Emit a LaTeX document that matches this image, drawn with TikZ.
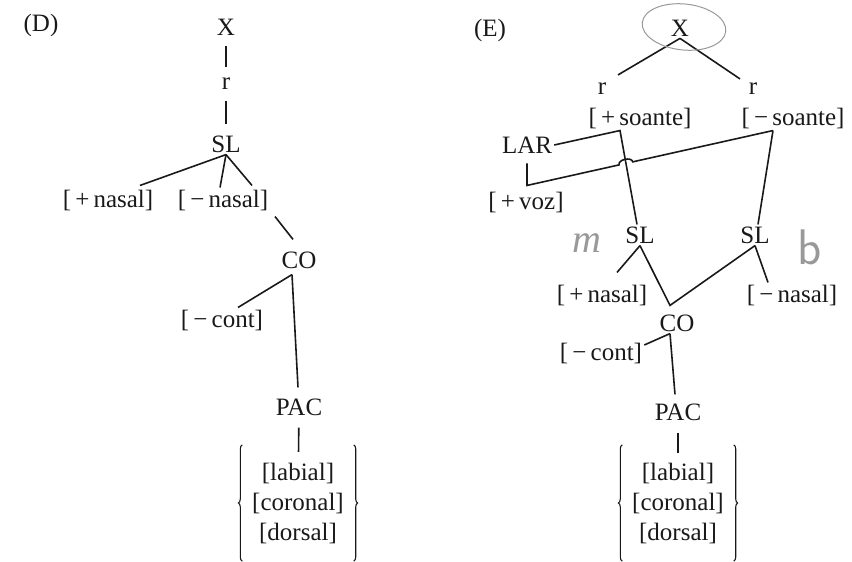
\documentclass[tikz,border=0pt]{standalone}
\usepackage{fontspec}
\setmainfont{Liberation Serif}
\usetikzlibrary{positioning, calc, decorations.pathreplacing}

\begin{document}
\begin{tikzpicture}[
        x=1pt, y=1pt,
        every node/.style={font=\fontsize{25}{30}\selectfont, text=black!90, inner sep=2pt},
        feats/.style={align=center, minimum width=111pt, minimum height=116pt},
        tie/.style={line width=1.6pt, draw=black!90},
        stem/.style={tie, shorten <=9pt, shorten >=9pt},
        brc/.style={tie, line width=1.1pt, decorate, decoration={brace, amplitude=4pt}},
        pencil/.style={draw=black!40, line width=1pt},
        scrawl/.style={text=black!40, font=\fontsize{40}{40}\selectfont\itshape}
    ]
        \useasboundingbox (0,0) rectangle (852,-562);

        % (D)
        \node (labd) at (41,-25) {(D)};
        \node (xd) at (226,-27) {X};
        \node (rd) at (226,-84) {r};
        \node (sld) at (226,-144) {SL};
        \node (pnasd) at (108,-200) {[\,+\,nasal]};
        \node (mnasd) at (223,-200) {[\,−\,nasal]};
        \node (cod) at (299,-260) {CO};
        \node (mcontd) at (222,-320) {[\,−\,cont]};
        \node (pacd) at (299,-407) {PAC};
        \node[feats] (featd) at (298,-503) {[labial]\\{}[coronal]\\{}[dorsal]};

        \draw[stem] (xd) -- (rd);
        \draw[stem] (rd) -- (sld);
        \draw[tie] (sld.south) -- ([shift={(32pt,2pt)}]pnasd.north);
        \draw[tie] (sld.south) -- ([xshift=-3pt]mnasd.north);
        \draw[tie] (sld.south) -- ([shift={(29pt,2pt)}]mnasd.north);
        \draw[tie] ([shift={(52pt,-4pt)}]mnasd.south) -- ([shift={(-6pt,10pt)}]cod.north);
        \draw[tie] ([shift={(-7pt,-4pt)}]cod.south) -- ([xshift=16pt]mcontd.north);
        \draw[tie] ([shift={(-7pt,-4pt)}]cod.south) -- ([shift={(-1pt,9pt)}]pacd.north);
        \draw[tie, shorten <=10pt, shorten >=-7pt] (pacd) -- (featd);
        \draw[brc] (featd.south west) -- (featd.north west);
        \draw[brc] (featd.north east) -- (featd.south east);

        % (E)
        \node (labe) at (490,-30) {(E)};
        \node (xe) at (680,-28) {X};
        \node (rle) at (602,-89) {r};
        \node (rre) at (753,-89) {r};
        \node (psone) at (640,-118) {[\,+\,soante]};
        \node (msone) at (793,-118) {[\,−\,soante]};
        \node (lare) at (527,-145) {LAR};
        \node (pvoze) at (526,-202) {[\,+\,voz]};
        \node (slae) at (640,-235) {SL};
        \node (slbe) at (755,-235) {SL};
        \node (pnase) at (602,-295) {[\,+\,nasal]};
        \node (mnase) at (792,-295) {[\,−\,nasal]};
        \node (coe) at (677,-323) {CO};
        \node (mconte) at (601,-353) {[\,−\,cont]};
        \node (pace) at (678,-412) {PAC};
        \node[feats] (feate) at (678,-503) {[labial]\\{}[coronal]\\{}[dorsal]};

        \coordinate (psonpt) at ([xshift=-20pt]psone.south);
        \coordinate (msonpt) at ([xshift=-20pt]msone.south);
        \coordinate (vozc) at ([yshift=-30pt]lare.south);

        \draw[tie] (xe.south) -- ([shift={(16pt,6pt)}]rle.north);
        \draw[tie] (xe.south) -- ([shift={(-13pt,2pt)}]rre.north);
        \draw[tie] (lare.east) -- (psonpt) -- ([xshift=-3pt]slae.north);
        \draw[tie] (msonpt) -- ([xshift=3pt]slbe.north);
        \draw[tie, shorten <=8pt] (lare.south) -- (vozc) -- ($(vozc)!0.374!(msonpt)$)
            to[bend left=90] ($(vozc)!0.430!(msonpt)$) -- (msonpt);
        \draw[tie] (slae.south) -- ([shift={(15pt,10pt)}]pnase.north);
        \draw[tie] (slae.south) -- ([shift={(-7pt,7pt)}]coe.north) -- (slbe.south);
        \draw[tie] (slbe.south) -- ([xshift=-24pt]mnase.north);
        \draw[tie] ([xshift=-7pt]coe.south) -- ([yshift=8pt]mconte.east);
        \draw[tie] ([xshift=-7pt]coe.south) -- ([shift={(-3pt,7pt)}]pace.north);
        \draw[tie, shorten <=10pt, shorten >=-8pt] (pace) -- (feate);
        \draw[brc] (feate.south west) -- (feate.north west);
        \draw[brc] (feate.north east) -- (feate.south east);

        % pencil marks
        \draw[pencil, rotate around={-6:(684,-27)}] (684,-27) ellipse [x radius=42pt, y radius=23pt];
        \node[scrawl] (hm) at (587,-243) {m};
        \node[scrawl, font=\fontsize{50}{50}\selectfont\sffamily] (hb) at (810,-247) {b};
\end{tikzpicture}
\end{document}
